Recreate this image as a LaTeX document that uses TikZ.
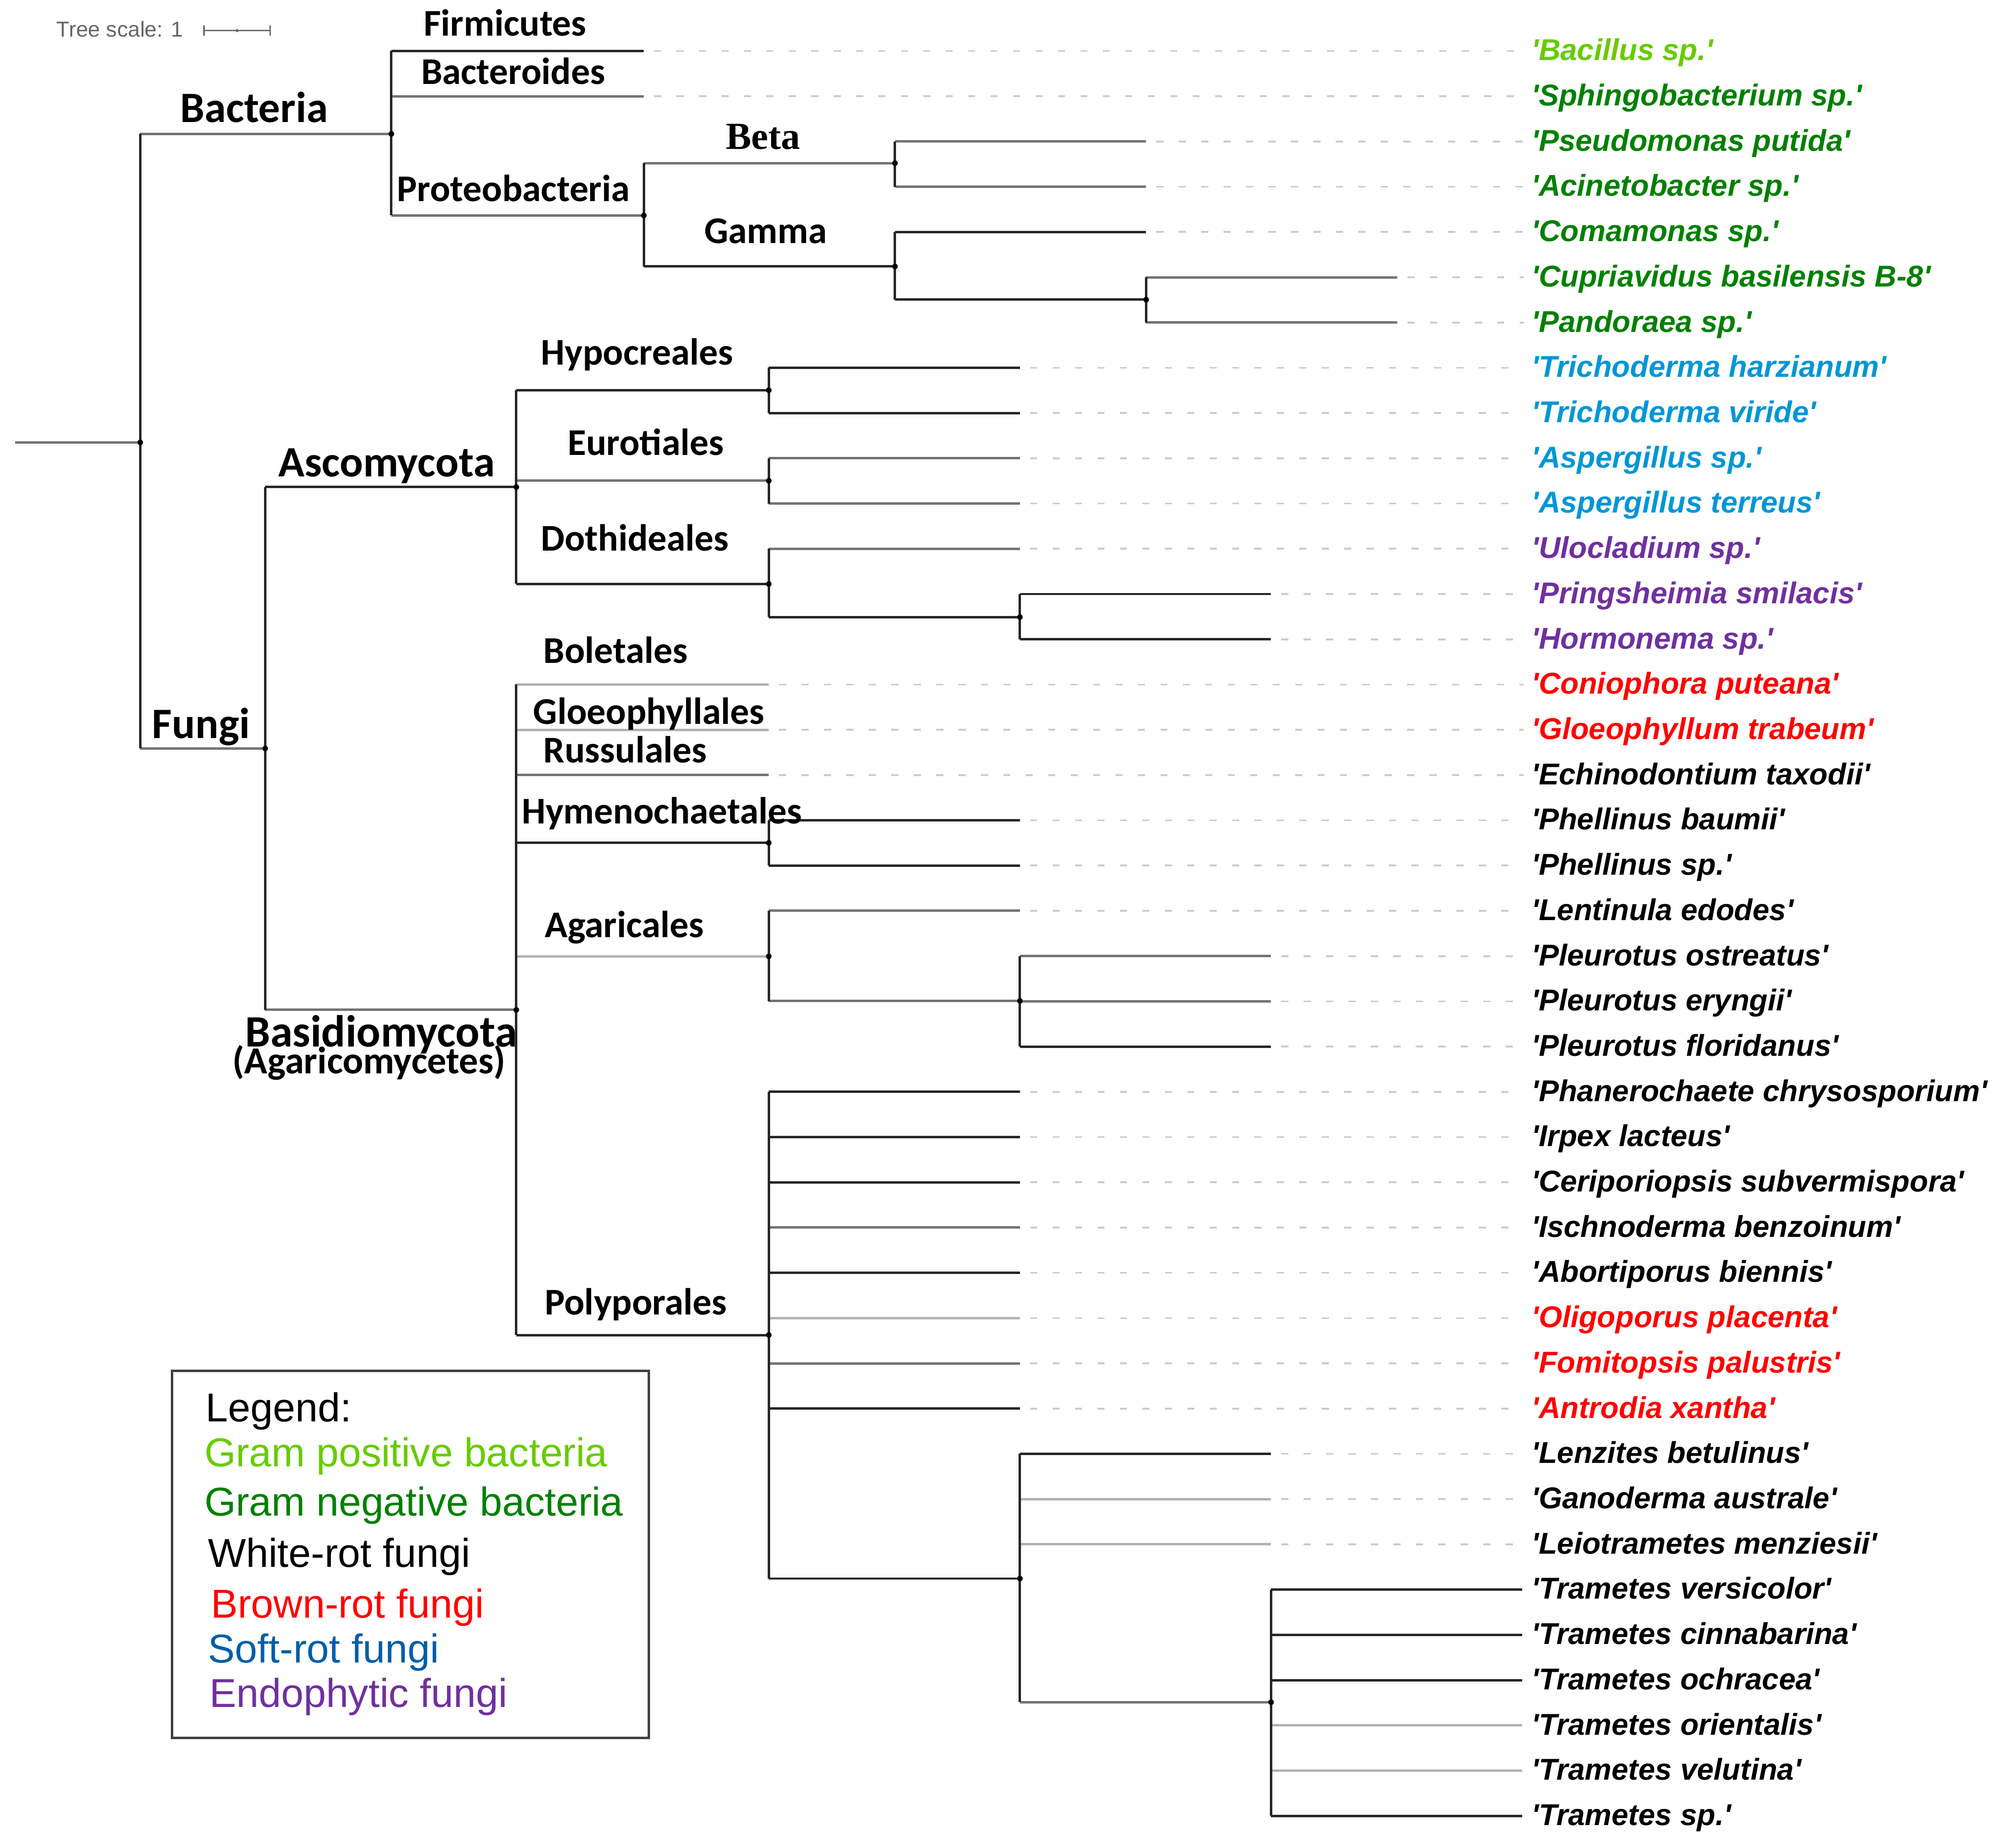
\documentclass[tikz,border=0pt]{standalone}
\usepackage{fontspec}
\setmainfont{Liberation Sans}
\newfontfamily\cladefont{Carlito}
\newfontfamily\betafont{Liberation Serif}
\newfontfamily\taxonfont{Liberation Sans}[Ligatures=TeXOff]
\usetikzlibrary{calc}
\definecolor{gpos}{RGB}{102,204,0}
\definecolor{gneg}{RGB}{0,128,0}
\definecolor{soft}{RGB}{0,150,214}
\definecolor{softdark}{RGB}{0,94,168}
\definecolor{endo}{RGB}{112,48,160}
\definecolor{brot}{RGB}{255,0,0}
\definecolor{wrot}{RGB}{0,0,0}
\tikzset{
    brdark/.style={line width=0.95pt, draw=black!85},
    brmid/.style={line width=0.95pt, draw=black!55},
    brlight/.style={line width=0.95pt, draw=black!30},
    leader/.style={line width=0.7pt, draw=black!20, dash pattern=on 2.8pt off 6pt},
    clade/.style={anchor=base west, inner sep=0pt,
        font=\cladefont\bfseries\fontsize{14.8}{16}\selectfont},
    bigclade/.style={clade, font=\cladefont\bfseries\fontsize{17}{18}\selectfont},
    taxon/.style={anchor=base west, inner sep=0pt, yshift=-3.7pt,
        font=\taxonfont\bfseries\itshape\fontsize{11.8}{13}\selectfont},
    legtext/.style={anchor=base west, inner sep=0pt, font=\fontsize{15.8}{18}\selectfont},
    scalebar/.style={line width=0.6pt, draw=black!55}
}
\begin{document}
\begin{tikzpicture}[x=0.5pt, y=-0.5pt]
    \useasboundingbox (0,0) rectangle (1568,1449);

    % Internal nodes of the tree
    \coordinate (rootend) at (12,347);
    \coordinate (root) at (110,347);
    \coordinate (bact) at (307,105);
    \coordinate (proteo) at (505,169);
    \coordinate (beta) at (702,128);
    \coordinate (gamma) at (702,209);
    \coordinate (gsub) at (899,235);
    \coordinate (fungi) at (208,587);
    \coordinate (asco) at (405,382);
    \coordinate (hypo) at (603,306);
    \coordinate (euro) at (603,377);
    \coordinate (doth) at (603,458);
    \coordinate (dsub) at (800,484);
    \coordinate (basid) at (405,792);
    \coordinate (hyme) at (603,661);
    \coordinate (agar) at (603,750);
    \coordinate (asub) at (800,785);
    \coordinate (poly) at (603,1047);
    \coordinate (psub) at (800,1238);
    \coordinate (tram) at (997,1335);

    % Leaves: index/parent/tip x/branch style/name/colour
    \foreach \i/\pn/\xe/\st/\txt/\col in {
        1/bact/505/brdark/Bacillus sp./gpos,
        2/bact/505/brmid/Sphingobacterium sp./gneg,
        3/beta/899/brmid/Pseudomonas putida/gneg,
        4/beta/899/brmid/Acinetobacter sp./gneg,
        5/gamma/899/brdark/Comamonas sp./gneg,
        6/gsub/1096/brmid/Cupriavidus basilensis B-8/gneg,
        7/gsub/1096/brmid/Pandoraea sp./gneg,
        8/hypo/800/brdark/Trichoderma harzianum/soft,
        9/hypo/800/brdark/Trichoderma viride/soft,
        10/euro/800/brmid/Aspergillus sp./soft,
        11/euro/800/brmid/Aspergillus terreus/soft,
        12/doth/800/brmid/Ulocladium sp./endo,
        13/dsub/997/brdark/Pringsheimia smilacis/endo,
        14/dsub/997/brdark/Hormonema sp./endo,
        15/basid/603/brlight/Coniophora puteana/brot,
        16/basid/603/brlight/Gloeophyllum trabeum/brot,
        17/basid/603/brmid/Echinodontium taxodii/wrot,
        18/hyme/800/brdark/Phellinus baumii/wrot,
        19/hyme/800/brdark/Phellinus sp./wrot,
        20/agar/800/brmid/Lentinula edodes/wrot,
        21/asub/997/brmid/Pleurotus ostreatus/wrot,
        22/asub/997/brmid/Pleurotus eryngii/wrot,
        23/asub/997/brdark/Pleurotus floridanus/wrot,
        24/poly/800/brdark/Phanerochaete chrysosporium/wrot,
        25/poly/800/brdark/Irpex lacteus/wrot,
        26/poly/800/brdark/Ceriporiopsis subvermispora/wrot,
        27/poly/800/brmid/Ischnoderma benzoinum/wrot,
        28/poly/800/brdark/Abortiporus biennis/wrot,
        29/poly/800/brlight/Oligoporus placenta/brot,
        30/poly/800/brmid/Fomitopsis palustris/brot,
        31/poly/800/brdark/Antrodia xantha/brot,
        32/psub/997/brdark/Lenzites betulinus/wrot,
        33/psub/997/brlight/Ganoderma australe/wrot,
        34/psub/997/brlight/Leiotrametes menziesii/wrot,
        35/tram/1194/brdark/Trametes versicolor/wrot,
        36/tram/1194/brdark/Trametes cinnabarina/wrot,
        37/tram/1194/brdark/Trametes ochracea/wrot,
        38/tram/1194/brlight/Trametes orientalis/wrot,
        39/tram/1194/brlight/Trametes velutina/wrot,
        40/tram/1194/brdark/Trametes sp./wrot} {
        \coordinate (l\i) at (\xe, {40+35.49*(\i-1)});
        \node[taxon, text=\col] (t\i) at (1201, {40+35.49*(\i-1)}) {'\txt'};
        \ifnum\i<35
            \draw[leader] ([xshift=4pt]l\i) -- ([xshift=-3pt]l\i -| t\i.west);
        \fi
        \draw[\st] (\pn |- l\i) -- (l\i);
    }

    % Branches between internal nodes
    \draw[brmid] (rootend) -- (root);
    \foreach \p/\c/\st in {root/bact/brmid, root/fungi/brmid, bact/proteo/brmid,
        proteo/beta/brmid, proteo/gamma/brdark, gamma/gsub/brdark,
        fungi/asco/brdark, fungi/basid/brmid, asco/hypo/brdark, asco/euro/brmid,
        asco/doth/brdark, doth/dsub/brdark, basid/hyme/brdark, basid/agar/brlight,
        basid/poly/brdark, agar/asub/brmid, poly/psub/brdark, psub/tram/brmid} {
        \draw[\st] (\p |- \c) -- (\c);
    }

    % Vertical spans: node/first child/last child
    \foreach \n/\a/\b in {root/bact/fungi, bact/l1/proteo, proteo/beta/gamma,
        beta/l3/l4, gamma/l5/gsub, gsub/l6/l7, fungi/asco/basid, asco/hypo/doth,
        hypo/l8/l9, euro/l10/l11, doth/l12/dsub, dsub/l13/l14, basid/l15/poly,
        hyme/l18/l19, agar/l20/asub, asub/l21/l23, poly/l24/psub, psub/l32/tram,
        tram/l35/l40} {
        \draw[brdark] (\n |- \a) -- (\n |- \b);
        \fill[black] (\n) circle (1.1pt);
    }

    % Clade labels
    \node[clade] (lbfirm) at (332,28) {Firmicutes};
    \node[clade] (lbbactero) at (330,66) {Bacteroides};
    \node[bigclade] (lbbact) at (141,96) {Bacteria};
    \node[clade] (lbproteo) at (311,158) {Proteobacteria};
    \node[anchor=base west, inner sep=0pt, font=\betafont\bfseries\fontsize{15}{16}\selectfont]
        (lbbeta) at (569,117) {Beta};
    \node[clade] (lbgamma) at (552,191) {Gamma};
    \node[clade] (lbhypo) at (424,286) {Hypocreales};
    \node[bigclade] (lbasco) at (218,374) {Ascomycota};
    \node[clade] (lbeuro) at (445,357) {Eurotiales};
    \node[clade] (lbdoth) at (424,432) {Dothideales};
    \node[bigclade] (lbfungi) at (119,579) {Fungi};
    \node[clade] (lbbolet) at (426,520) {Boletales};
    \node[clade] (lbgloeo) at (418,568) {Gloeophyllales};
    \node[clade] (lbruss) at (426,598) {Russulales};
    \node[clade] (lbhyme) at (409,646) {Hymenochaetales};
    \node[clade] (lbagar) at (427,735) {Agaricales};
    \node[clade, font=\cladefont\bfseries\fontsize{17.6}{18}\selectfont]
        (lbbasid) at (192,821) {Basidiomycota};
    \node[clade, font=\cladefont\bfseries\fontsize{15}{16}\selectfont]
        (lbagarico) at (182,842) {(Agaricomycetes)};
    \node[clade] (lbpoly) at (427,1031) {Polyporales};

    % Tree scale
    \node[anchor=base west, inner sep=0pt, text=black!60, font=\fontsize{8.5}{10}\selectfont]
        (scalelabel) at (44,29) {Tree scale: 1};
    \coordinate (sbl) at (160,24);
    \coordinate (sbr) at (212,24);
    \draw[scalebar] (sbl) -- (sbr);
    \draw[scalebar] ([yshift=2pt]sbl) -- ([yshift=-2pt]sbl);
    \draw[scalebar] ([yshift=2pt]sbr) -- ([yshift=-2pt]sbr);
    \fill[black!60] ($(sbl)!0.5!(sbr)$) circle (0.6pt);

    % Legend
    \draw[line width=0.9pt, draw=black!75] (135,1075) rectangle (509,1363);
    \node[legtext] (legtitle) at (161,1115) {Legend:};
    \node[legtext, text=gpos] (leggpos) at (160,1150) {Gram positive bacteria};
    \node[legtext, text=gneg] (leggneg) at (160,1189) {Gram negative bacteria};
    \node[legtext] (legwhite) at (163,1229) {White-rot fungi};
    \node[legtext, text=brot] (legbrown) at (165,1269) {Brown-rot fungi};
    \node[legtext, text=softdark] (legsoft) at (163,1304) {Soft-rot fungi};
    \node[legtext, text=endo] (legendo) at (164,1339) {Endophytic fungi};

\end{tikzpicture}
\end{document}
